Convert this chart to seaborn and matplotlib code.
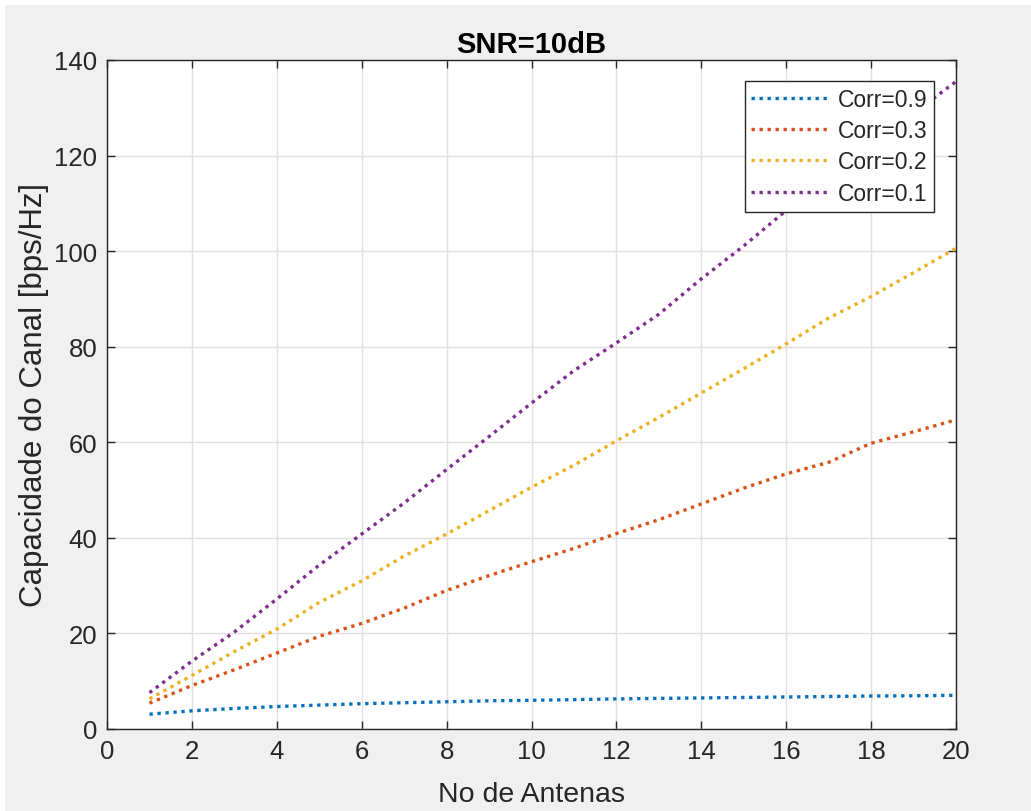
import matplotlib
matplotlib.use("Agg")
import matplotlib.pyplot as plt
from matplotlib.patches import Rectangle
import numpy as np
import pandas as pd
import seaborn as sns

# Number of antennas
antennas = list(range(1, 21))

# Channel capacity [bps/Hz] for each correlation coefficient
cap_corr09 = [3.1, 3.8, 4.3, 4.7, 5.0, 5.3, 5.5, 5.7, 5.9, 6.0,
              6.15, 6.3, 6.4, 6.5, 6.6, 6.7, 6.8, 6.9, 6.95, 7.05]
cap_corr03 = [5.4, 9.1, 12.4, 15.9, 19.4, 22.1, 25.3, 29.0, 32.1, 35.0,
              37.8, 40.9, 43.8, 47.1, 50.4, 53.4, 55.8, 59.8, 62.2, 64.7]
cap_corr02 = [6.3, 11.2, 16.2, 20.9, 26.5, 31.0, 36.2, 40.8, 45.7, 50.6,
              55.2, 60.3, 65.2, 70.3, 75.4, 80.6, 86.0, 90.5, 95.5, 100.6]
cap_corr01 = [7.6, 14.2, 20.3, 27.2, 34.3, 40.8, 47.3, 54.3, 61.2, 68.2,
              75.0, 80.8, 86.8, 94.2, 101.1, 108.5, 115.2, 122.0, 128.8, 135.5]

labels = ["Corr=0.9", "Corr=0.3", "Corr=0.2", "Corr=0.1"]
colors = ["#0072BD", "#D95319", "#EDB120", "#7E2F8E"]

df = pd.concat([
    pd.DataFrame({"N": antennas, "C": vals, "serie": lab})
    for vals, lab in zip([cap_corr09, cap_corr03, cap_corr02, cap_corr01], labels)
])

sns.set_theme(style="white")
plt.rcParams["font.family"] = ["Liberation Sans", "DejaVu Sans"]

fig = plt.figure(figsize=(10.31, 8.12), dpi=100, facecolor="#f0f0f0")
ax = fig.add_axes([107 / 1031, 1 - 730 / 812, (956 - 107) / 1031, (730 - 61) / 812])
ax.set_facecolor("white")

# thin white margin along the top and left edges
fig.patches.append(Rectangle((0, 1 - 6 / 812), 1, 6 / 812, transform=fig.transFigure,
                             facecolor="white", edgecolor="none", zorder=-1))
fig.patches.append(Rectangle((0, 0), 5 / 1031, 1, transform=fig.transFigure,
                             facecolor="white", edgecolor="none", zorder=-1))

dot_pattern = (0, (1, 1.4))
lw = 2.4

sns.lineplot(data=df, x="N", y="C", hue="serie", hue_order=labels,
             palette=colors, linewidth=lw, ax=ax, legend=True)
for line in ax.get_lines():
    line.set_linestyle(dot_pattern)
    line.set_dash_capstyle("butt")

ax.set_xlim(0, 20)
ax.set_ylim(0, 140)
ax.set_xticks(np.arange(0, 21, 2))
ax.set_yticks(np.arange(0, 141, 20))

ax.grid(True, color="#e0e0e0", linewidth=1.0)
ax.set_axisbelow(True)
for sp in ax.spines.values():
    sp.set_visible(True)
    sp.set_color("#262626")
    sp.set_linewidth(1.0)

ax.tick_params(direction="in", length=6, width=1.0, color="#262626",
               labelcolor="#262626", labelsize=18.5, top=True, right=True,
               bottom=True, left=True, pad=7)

ax.set_title("SNR=10dB", fontsize=21, fontweight="bold", color="black", pad=6)
ax.set_xlabel("No de Antenas", fontsize=20.5, color="#262626", labelpad=13)
ax.set_ylabel("Capacidade do Canal [bps/Hz]", fontsize=22.5, color="#262626", labelpad=4)

leg = ax.legend(loc="upper right", bbox_to_anchor=(0.974, 0.9686), fontsize=16.5,
                frameon=True, fancybox=False, edgecolor="#262626", framealpha=1,
                handlelength=3.4, handletextpad=0.35, borderpad=0.3, labelspacing=0.36,
                borderaxespad=0.0)
leg.get_frame().set_linewidth(1.0)
for h in leg.get_lines():
    h.set_linestyle(dot_pattern)
    h.set_linewidth(lw)

fig.savefig("out.png", dpi=100, facecolor=fig.get_facecolor())
